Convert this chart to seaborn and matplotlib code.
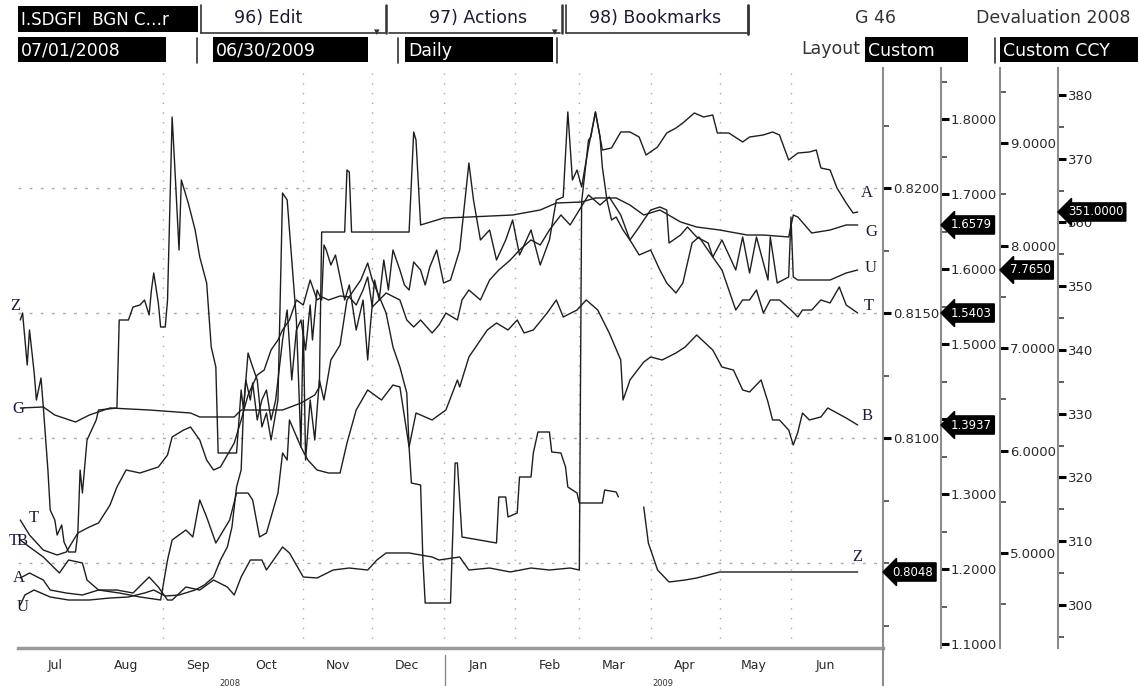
import pandas as pd
import matplotlib
matplotlib.use("Agg")
import matplotlib.pyplot as plt
import matplotlib.dates as mdates
from matplotlib.patches import Rectangle
from matplotlib.lines import Line2D
from matplotlib.ticker import MultipleLocator, FormatStrFormatter, FixedLocator, NullFormatter, FuncFormatter
import seaborn as sns
import numpy as np

# ---- values ----
# Z (first right axis)
z_dates = ['2008-07-01', '2008-07-02', '2008-07-04', '2008-07-05', '2008-07-07', '2008-07-08', '2008-07-10', '2008-07-11', '2008-07-13', '2008-07-14',
           '2008-07-16', '2008-07-17', '2008-07-19', '2008-07-20', '2008-07-22', '2008-07-25', '2008-07-26', '2008-07-27', '2008-07-28', '2008-07-30',
           '2008-08-03', '2008-08-04', '2008-08-12', '2008-08-13', '2008-08-17', '2008-08-19', '2008-08-22', '2008-08-24', '2008-08-26', '2008-08-27',
           '2008-08-28', '2008-08-30', '2008-08-31', '2008-09-02', '2008-09-03', '2008-09-05', '2008-09-06', '2008-09-08', '2008-09-09', '2008-09-12',
           '2008-09-15', '2008-09-17', '2008-09-20', '2008-09-22', '2008-09-24', '2008-09-25', '2008-10-03', '2008-10-05', '2008-10-06', '2008-10-08',
           '2008-10-10', '2008-10-12', '2008-10-14', '2008-10-16', '2008-10-18', '2008-10-21', '2008-10-23', '2008-10-25', '2008-10-26', '2008-10-28',
           '2008-10-29', '2008-10-31', '2008-11-01', '2008-11-02', '2008-11-04', '2008-11-06', '2008-11-08', '2008-11-10', '2008-11-13', '2008-11-17',
           '2008-11-20', '2008-11-23', '2008-11-26', '2008-11-29', '2008-12-01', '2008-12-07', '2008-12-10', '2008-12-13', '2008-12-16', '2008-12-17',
           '2008-12-18', '2008-12-22', '2008-12-23', '2008-12-24', '2009-01-04', '2009-01-06', '2009-01-07', '2009-01-09', '2009-01-24', '2009-01-25',
           '2009-01-28', '2009-01-29', '2009-02-02', '2009-02-03', '2009-02-08', '2009-02-09', '2009-02-11', '2009-02-16', '2009-02-17', '2009-02-21',
           '2009-02-23', '2009-02-24', '2009-02-28', '2009-03-01', '2009-03-11', '2009-03-12', '2009-03-17', '2009-03-18', '2009-03-24', '2009-03-29',
           '2009-03-31', '2009-04-04', '2009-04-09', '2009-04-16', '2009-04-21', '2009-04-26', '2009-05-01', '2009-06-30']
z_vals = [0.81472, 0.81500, 0.81292, 0.81432, 0.81264, 0.81152, 0.81240, 0.81124, 0.80872, 0.80712,
          0.80672, 0.80612, 0.80652, 0.80584, 0.80544, 0.80544, 0.80620, 0.80872, 0.80780, 0.80992,
          0.81072, 0.81112, 0.81120, 0.81472, 0.81472, 0.81524, 0.81532, 0.81552, 0.81492, 0.81592,
          0.81660, 0.81540, 0.81444, 0.81444, 0.81552, 0.82284, 0.82112, 0.81752, 0.82032, 0.81940,
          0.81832, 0.81724, 0.81620, 0.81364, 0.81284, 0.80940, 0.80940, 0.81192, 0.81112, 0.81340,
          0.81284, 0.81232, 0.81044, 0.81100, 0.80992, 0.81152, 0.81980, 0.81952, 0.81832, 0.81592,
          0.81472, 0.80964, 0.81472, 0.80912, 0.81152, 0.80992, 0.81232, 0.81152, 0.81312, 0.81372,
          0.81552, 0.81592, 0.81632, 0.81700, 0.81632, 0.81500, 0.81364, 0.81284, 0.81180, 0.80964,
          0.80820, 0.80812, 0.80512, 0.80340, 0.80340, 0.80900, 0.80900, 0.80604, 0.80580, 0.80764,
          0.80764, 0.80684, 0.80700, 0.80844, 0.80844, 0.80940, 0.81024, 0.81024, 0.80944, 0.80940,
          0.80884, 0.80804, 0.80780, 0.80740, 0.80740, 0.80792, 0.80784, 0.80764, np.nan, 0.80724,
          0.80580, 0.80472, 0.80424, 0.80432, 0.80440, 0.80452, 0.80464, 0.80464]

# G (second axis)
g_dates = ['2008-07-01', '2008-07-11', '2008-07-16', '2008-07-25', '2008-07-31', '2008-08-09', '2008-08-26', '2008-09-13', '2008-09-17', '2008-10-02',
           '2008-10-05', '2008-10-23', '2008-10-31', '2008-11-06', '2008-11-08', '2008-11-09', '2008-11-19', '2008-11-20', '2008-11-21', '2008-11-22',
           '2008-12-17', '2008-12-19', '2008-12-20', '2008-12-22', '2009-01-01', '2009-01-12', '2009-01-31', '2009-02-12', '2009-02-19', '2009-03-02',
           '2009-03-08', '2009-03-17', '2009-03-23', '2009-03-29', '2009-04-05', '2009-04-14', '2009-04-21', '2009-05-01', '2009-05-13', '2009-05-20',
           '2009-05-31', '2009-06-02', '2009-06-04', '2009-06-10', '2009-06-18', '2009-06-25', '2009-06-30']
g_vals = [1.4147, 1.4160, 1.4053, 1.3960, 1.4053, 1.4147, 1.4120, 1.4080, 1.4027, 1.4027,
          1.4120, 1.4120, 1.4213, 1.4320, 1.4427, 1.6493, 1.6493, 1.7320, 1.7293, 1.6493,
          1.6493, 1.7827, 1.7720, 1.6587, 1.6680, 1.6693, 1.6720, 1.6787, 1.6880, 1.6893,
          1.6947, 1.6947, 1.6853, 1.6720, 1.6787, 1.6627, 1.6560, 1.6520, 1.6453, 1.6453,
          1.6427, 1.6720, 1.6693, 1.6480, 1.6520, 1.6587, 1.6587]

# U (third axis)
u_dates = ['2008-07-01', '2008-07-03', '2008-07-07', '2008-07-14', '2008-07-22', '2008-07-31', '2008-08-09', '2008-08-17', '2008-08-24', '2008-08-28',
           '2008-09-02', '2008-09-08', '2008-09-15', '2008-09-19', '2008-09-23', '2008-09-26', '2008-09-29', '2008-10-01', '2008-10-03', '2008-10-05',
           '2008-10-06', '2008-10-07', '2008-10-09', '2008-10-10', '2008-10-12', '2008-10-14', '2008-10-16', '2008-10-18', '2008-10-20', '2008-10-23',
           '2008-10-25', '2008-10-27', '2008-10-29', '2008-10-31', '2008-11-02', '2008-11-04', '2008-11-05', '2008-11-07', '2008-11-09', '2008-11-10',
           '2008-11-11', '2008-11-13', '2008-11-15', '2008-11-19', '2008-11-21', '2008-11-24', '2008-11-27', '2008-11-29', '2008-11-30', '2008-12-02',
           '2008-12-04', '2008-12-06', '2008-12-08', '2008-12-10', '2008-12-13', '2008-12-15', '2008-12-17', '2008-12-19', '2008-12-22', '2008-12-24',
           '2008-12-26', '2008-12-29', '2009-01-01', '2009-01-04', '2009-01-08', '2009-01-12', '2009-01-14', '2009-01-17', '2009-01-21', '2009-01-24',
           '2009-01-28', '2009-01-31', '2009-02-03', '2009-02-08', '2009-02-12', '2009-02-16', '2009-02-19', '2009-02-22', '2009-02-24', '2009-02-26',
           '2009-02-28', '2009-03-02', '2009-03-05', '2009-03-08', '2009-03-10', '2009-03-11', '2009-03-13', '2009-03-15', '2009-03-17', '2009-03-20',
           '2009-03-23', '2009-03-27', '2009-04-01', '2009-04-05', '2009-04-08', '2009-04-09', '2009-04-14', '2009-04-17', '2009-04-21', '2009-04-26',
           '2009-04-28', '2009-05-02', '2009-05-05', '2009-05-08', '2009-05-11', '2009-05-14', '2009-05-17', '2009-05-22', '2009-05-23', '2009-05-26',
           '2009-05-31', '2009-06-01', '2009-06-02', '2009-06-04', '2009-06-18', '2009-06-25', '2009-06-30']
u_vals = [4.4927, 4.5902, 4.6390, 4.5707, 4.5414, 4.5414, 4.5610, 4.5707, 4.6097, 4.6390,
          4.5805, 4.5902, 4.6390, 4.6878, 4.7658, 4.9317, 5.0585, 5.2536, 5.6439, 5.8097,
          6.3951, 6.6878, 6.4927, 6.6585, 6.2975, 6.4927, 6.5902, 6.2975, 6.4927, 7.0780,
          7.3707, 6.6878, 7.1756, 7.2731, 6.9805, 7.4195, 7.0780, 7.5658, 7.4683, 8.0049,
          7.9561, 7.8097, 7.9073, 7.4683, 7.6146, 7.1756, 7.4683, 6.8829, 7.1756, 7.6634,
          7.4683, 7.8585, 7.5658, 7.9561, 7.7610, 7.6146, 7.5658, 7.8390, 7.7610, 7.6146,
          7.7902, 7.9561, 7.6341, 7.6634, 7.9561, 8.8049, 8.4439, 8.0536, 8.1512, 7.8585,
          8.0536, 8.2488, 7.9073, 8.1512, 7.8097, 8.0536, 8.4439, 8.4731, 9.3024, 8.6390,
          8.7366, 8.5707, 8.9610, 9.3024, 9.0585, 8.7658, 8.4439, 8.2488, 8.2780, 8.1512,
          8.0536, 8.1805, 8.3463, 8.3756, 8.3463, 8.0244, 8.1024, 8.1805, 8.0829, 8.0244,
          7.8878, 8.0536, 7.9073, 7.7610, 8.0829, 7.7317, 8.0829, 7.6634, 8.0829, 7.6341,
          7.6927, 8.2780, 7.6927, 7.6634, 7.6634, 7.7317, 7.7610]

# T (second axis)
t_dates = ['2008-07-01', '2008-07-05', '2008-07-11', '2008-07-17', '2008-07-21', '2008-07-26', '2008-07-31', '2008-08-04', '2008-08-09', '2008-08-12',
           '2008-08-16', '2008-08-22', '2008-08-30', '2008-09-03', '2008-09-05', '2008-09-10', '2008-09-13', '2008-09-17', '2008-09-20', '2008-09-23',
           '2008-09-26', '2008-09-29', '2008-10-02', '2008-10-05', '2008-10-08', '2008-10-12', '2008-10-15', '2008-10-18', '2008-10-21', '2008-10-23',
           '2008-10-26', '2008-10-29', '2008-11-01', '2008-11-04', '2008-11-07', '2008-11-09', '2008-11-12', '2008-11-17', '2008-11-21', '2008-11-24',
           '2008-11-27', '2008-11-29', '2008-12-01', '2008-12-04', '2008-12-07', '2008-12-13', '2008-12-16', '2008-12-19', '2008-12-22', '2008-12-27',
           '2008-12-30', '2009-01-02', '2009-01-07', '2009-01-09', '2009-01-12', '2009-01-17', '2009-01-21', '2009-01-25', '2009-01-30', '2009-02-03',
           '2009-02-08', '2009-02-12', '2009-02-16', '2009-02-21', '2009-02-25', '2009-03-01', '2009-03-05', '2009-03-10', '2009-03-14', '2009-03-19',
           '2009-03-23', '2009-03-27', '2009-04-01', '2009-04-05', '2009-04-08', '2009-04-12', '2009-04-15', '2009-04-19', '2009-04-22', '2009-04-28',
           '2009-05-02', '2009-05-05', '2009-05-08', '2009-05-11', '2009-05-14', '2009-05-17', '2009-05-20', '2009-05-23', '2009-05-27', '2009-06-01',
           '2009-06-04', '2009-06-06', '2009-06-10', '2009-06-14', '2009-06-18', '2009-06-22', '2009-06-25', '2009-06-30']
t_vals = [1.2653, 1.2453, 1.2253, 1.2187, 1.2227, 1.2480, 1.2560, 1.2613, 1.2853, 1.3093,
          1.3320, 1.3280, 1.3360, 1.3520, 1.3760, 1.3853, 1.3893, 1.3720, 1.3453, 1.3320,
          1.3360, 1.3520, 1.3680, 1.3987, 1.4320, 1.4587, 1.4653, 1.4920, 1.5053, 1.5187,
          1.5320, 1.5587, 1.5520, 1.5853, 1.5587, 1.5627, 1.5587, 1.5640, 1.5627, 1.5520,
          1.5720, 1.5893, 1.5493, 1.5587, 1.5680, 1.5587, 1.5320, 1.5227, 1.5320, 1.5147,
          1.5253, 1.5413, 1.5320, 1.5587, 1.5720, 1.5587, 1.5853, 1.5987, 1.6120, 1.6253,
          1.6387, 1.6320, 1.6520, 1.6720, 1.6587, 1.6787, 1.6987, 1.6853, 1.6960, 1.6720,
          1.6387, 1.6187, 1.6253, 1.5987, 1.5813, 1.5680, 1.5813, 1.6347, 1.6427, 1.6160,
          1.5987, 1.5720, 1.5453, 1.5587, 1.5587, 1.5720, 1.5413, 1.5587, 1.5587, 1.5453,
          1.5360, 1.5453, 1.5453, 1.5587, 1.5547, 1.5760, 1.5520, 1.5413]

# B (second axis)
b_dates = ['2008-07-01', '2008-07-05', '2008-07-11', '2008-07-18', '2008-07-22', '2008-07-28', '2008-07-30', '2008-08-04', '2008-08-13', '2008-08-22',
           '2008-08-31', '2008-09-03', '2008-09-05', '2008-09-11', '2008-09-14', '2008-09-17', '2008-09-20', '2008-09-24', '2008-09-30', '2008-10-03',
           '2008-10-08', '2008-10-10', '2008-10-13', '2008-10-16', '2008-10-21', '2008-10-23', '2008-10-25', '2008-10-26', '2008-10-31', '2008-11-03',
           '2008-11-07', '2008-11-12', '2008-11-17', '2008-11-20', '2008-11-24', '2008-11-29', '2008-12-05', '2008-12-10', '2008-12-13', '2008-12-17',
           '2008-12-20', '2008-12-27', '2009-01-02', '2009-01-07', '2009-01-08', '2009-01-12', '2009-01-20', '2009-01-24', '2009-01-29', '2009-02-02',
           '2009-02-05', '2009-02-09', '2009-02-15', '2009-02-19', '2009-02-22', '2009-02-28', '2009-03-04', '2009-03-09', '2009-03-14', '2009-03-19',
           '2009-03-20', '2009-03-22', '2009-03-23', '2009-03-29', '2009-04-01', '2009-04-06', '2009-04-12', '2009-04-16', '2009-04-21', '2009-04-28',
           '2009-05-02', '2009-05-07', '2009-05-11', '2009-05-14', '2009-05-19', '2009-05-22', '2009-05-24', '2009-05-27', '2009-05-31', '2009-06-02',
           '2009-06-04', '2009-06-06', '2009-06-09', '2009-06-14', '2009-06-17', '2009-06-21', '2009-06-25', '2009-06-30']
b_vals = [1.2387, 1.2293, 1.2160, 1.1947, 1.2120, 1.2080, 1.1853, 1.1720, 1.1680, 1.1627,
          1.1587, 1.2120, 1.2387, 1.2520, 1.2427, 1.2920, 1.2693, 1.2347, 1.2653, 1.3013,
          1.3013, 1.2920, 1.2427, 1.2480, 1.3013, 1.3547, 1.3453, 1.3987, 1.3627, 1.3453,
          1.3320, 1.3280, 1.3280, 1.3680, 1.4120, 1.4387, 1.4253, 1.4453, 1.4427, 1.3627,
          1.4080, 1.3987, 1.4120, 1.4520, 1.4427, 1.4827, 1.5187, 1.5280, 1.5187, 1.5320,
          1.5147, 1.5187, 1.5413, 1.5587, 1.5360, 1.5453, 1.5587, 1.5453, 1.5147, 1.4787,
          1.4253, 1.4427, 1.4520, 1.4760, 1.4827, 1.4787, 1.4880, 1.4960, 1.5120, 1.4920,
          1.4693, 1.4653, 1.4387, 1.4360, 1.4520, 1.4227, 1.3987, 1.3987, 1.3853, 1.3653,
          1.3827, 1.4080, 1.3987, 1.4027, 1.4147, 1.4080, 1.4013, 1.3920]

# A (fourth axis)
a_dates = ['2008-07-01', '2008-07-05', '2008-07-11', '2008-07-14', '2008-07-21', '2008-07-28', '2008-08-04', '2008-08-12', '2008-08-19', '2008-08-26',
           '2008-08-30', '2008-09-03', '2008-09-05', '2008-09-11', '2008-09-17', '2008-09-23', '2008-09-29', '2008-10-02', '2008-10-05', '2008-10-09',
           '2008-10-14', '2008-10-16', '2008-10-23', '2008-10-26', '2008-11-01', '2008-11-07', '2008-11-14', '2008-11-21', '2008-11-29', '2008-12-03',
           '2008-12-07', '2008-12-17', '2008-12-27', '2008-12-30', '2009-01-08', '2009-01-12', '2009-01-21', '2009-01-30', '2009-02-08', '2009-02-16',
           '2009-02-25', '2009-03-01', '2009-03-02', '2009-03-05', '2009-03-06', '2009-03-08', '2009-03-10', '2009-03-11', '2009-03-15', '2009-03-19',
           '2009-03-23', '2009-03-27', '2009-03-30', '2009-04-04', '2009-04-08', '2009-04-12', '2009-04-15', '2009-04-20', '2009-04-24', '2009-04-28',
           '2009-04-30', '2009-05-05', '2009-05-11', '2009-05-14', '2009-05-20', '2009-05-24', '2009-05-27', '2009-05-31', '2009-06-04', '2009-06-09',
           '2009-06-12', '2009-06-14', '2009-06-18', '2009-06-21', '2009-06-25', '2009-06-28', '2009-06-30']
a_vals = [304.24, 305.02, 303.92, 302.35, 301.88, 301.57, 302.35, 302.35, 301.88, 304.39,
          302.82, 300.78, 300.78, 302.82, 302.35, 303.92, 302.82, 301.57, 304.39, 307.06,
          307.06, 305.49, 309.10, 308.16, 304.39, 304.24, 305.49, 305.80, 305.49, 307.06,
          308.16, 308.16, 307.53, 307.06, 307.53, 305.49, 305.80, 305.18, 305.80, 305.49,
          305.80, 305.49, 363.22, 372.94, 373.41, 377.33, 373.41, 371.37, 371.69, 374.20,
          374.20, 373.41, 370.59, 371.84, 374.04, 374.82, 375.61, 377.18, 376.55, 376.86,
          374.04, 374.04, 372.63, 373.41, 373.73, 374.20, 373.73, 369.80, 370.90, 371.06,
          371.37, 368.55, 368.24, 365.41, 363.06, 361.49, 361.65]

# last-value boxes on the right axes
box_texts = {'Z': '0.8048', 'G': '1.6579', 'T': '1.5403', 'B': '1.3937', 'U': '7.7650', 'A': '351.0000'}

W, H = 1140, 686


def fx(x):
    return x / W


def fy(y):
    return 1 - y / H


def frame(dates, vals):
    df = pd.DataFrame({'date': pd.to_datetime(dates), 'value': vals})
    df['seg'] = df['value'].isna().cumsum()
    return df.dropna()


sns.set_theme(style="white")
plt.rcParams['font.family'] = ['DejaVu Sans']

fig = plt.figure(figsize=(W / 100, H / 100), dpi=100)
fig.patch.set_facecolor('white')

ax = fig.add_axes([fx(18), fy(648), fx(883) - fx(18), fy(68) - fy(648)])
ax2 = ax.twinx()
ax3 = ax.twinx()
ax4 = ax.twinx()
axes = {'ax1': ax, 'ax2': ax2, 'ax3': ax3, 'ax4': ax4}
spine_pos = {'ax1': 1.0, 'ax2': 1.0671, 'ax3': 1.1353, 'ax4': 1.2023}
ylims = {'ax1': (0.80160, 0.82480), 'ax2': (1.09467, 1.86800),
         'ax3': (4.07317, 9.73171), 'ax4': (293.255, 384.235)}

series = [
    ('Z', z_dates, z_vals, 'ax1'),
    ('G', g_dates, g_vals, 'ax2'),
    ('U', u_dates, u_vals, 'ax3'),
    ('T', t_dates, t_vals, 'ax2'),
    ('B', b_dates, b_vals, 'ax2'),
    ('A', a_dates, a_vals, 'ax4'),
]

line_col = '#1e1e1e'
for name, d, v, key in series:
    df = frame(d, v)
    sns.lineplot(data=df, x='date', y='value', units='seg', estimator=None,
                 ax=axes[key], color=line_col, lw=1.0, legend=False)

# axes styling
for key, a in axes.items():
    a.set_ylim(*ylims[key])
    a.set_xlabel('')
    a.set_ylabel('')
    for s in ['top', 'left']:
        a.spines[s].set_visible(False)
    if key != 'ax1':
        a.spines['bottom'].set_visible(False)
    a.spines['right'].set_position(('axes', spine_pos[key]))
    a.spines['right'].set_color('#8c8c8c')
    a.spines['right'].set_linewidth(1.5)
    a.yaxis.set_ticks_position('right')
    a.tick_params(axis='y', which='major', direction='out', length=6, width=2.2,
                  color='black', labelsize=9.5, labelcolor='#2a2a2a', pad=1)
    a.tick_params(axis='y', which='minor', direction='out', length=4, width=1.2, color='#444')

# the 0.8050 and 1.4000 labels sit under the value boxes in the reference
ax.yaxis.set_major_locator(FixedLocator([0.81, 0.815, 0.82]))
ax.yaxis.set_minor_locator(MultipleLocator(0.0025))
ax.yaxis.set_major_formatter(FormatStrFormatter('%.4f'))
ax2.yaxis.set_major_locator(MultipleLocator(0.1))
ax2.yaxis.set_minor_locator(MultipleLocator(0.05))
ax2.yaxis.set_major_formatter(FuncFormatter(lambda v, p: '' if abs(v - 1.4) < 1e-6 else f'{v:.4f}'))
ax3.yaxis.set_major_locator(MultipleLocator(1))
ax3.yaxis.set_minor_locator(MultipleLocator(0.5))
ax3.yaxis.set_major_formatter(FormatStrFormatter('%.4f'))
ax4.yaxis.set_major_locator(MultipleLocator(10))
ax4.yaxis.set_minor_locator(MultipleLocator(5))
ax4.yaxis.set_major_formatter(FormatStrFormatter('%d'))

ax.set_xlim(pd.Timestamp('2008-06-30'), pd.Timestamp('2009-07-11'))
ax.spines['bottom'].set_color('#9a9a9a')
ax.spines['bottom'].set_linewidth(2.5)
ax.xaxis.set_major_locator(mdates.MonthLocator())
ax.xaxis.set_major_formatter(NullFormatter())
ax.xaxis.set_minor_locator(mdates.MonthLocator(bymonthday=16))
ax.xaxis.set_minor_formatter(mdates.DateFormatter('%b'))
ax.tick_params(axis='x', which='major', direction='inout', length=6, width=1.5, color='#444')
ax.tick_params(axis='x', which='minor', length=0, labelsize=9, labelcolor='#2a2a2a', pad=8)

# dotted grid
ax.grid(False)
for yv in [0.805, 0.81, 0.815, 0.82]:
    ax.axhline(yv, color='#a8a8a8', lw=1.0, ls=(0, (2, 6)), zorder=0)
for m in ['2008-09-01', '2008-11-01', '2008-12-01', '2009-01-01', '2009-02-01',
          '2009-03-01', '2009-04-01', '2009-05-01', '2009-06-01']:
    ax.axvline(pd.Timestamp(m), color='#a8a8a8', lw=1.0, ls=(0, (1, 6)), zorder=0)

# end-value boxes
box_axis = {'Z': 'ax1', 'G': 'ax2', 'T': 'ax2', 'B': 'ax2', 'U': 'ax3', 'A': 'ax4'}
last_vals = {name: [x for x in v if not np.isnan(x)][-1] for name, d, v, key in series}
for name, txt in box_texts.items():
    key = box_axis[name]
    a = axes[key]
    a.annotate(txt, xy=(spine_pos[key], last_vals[name]), xycoords=a.get_yaxis_transform(),
               xytext=(7, 0), textcoords='offset points', ha='left', va='center',
               color='white', fontsize=8.5, annotation_clip=False, zorder=20,
               bbox=dict(boxstyle='larrow,pad=0.22', fc='black', ec='black'))

# series letters at both ends
lab_font = dict(family=['Liberation Serif', 'DejaVu Serif'], fontsize=12, color='#1b1b3a')
end_off = {'A': (6.5, 14), 'G': (10, -5), 'U': (9.5, 1.5), 'T': (8, 5), 'B': (7, 6.5), 'Z': (0, 11)}
start_off = {'Z': (-3.5, 10), 'G': (-1.5, -0.7), 'T': (10, 1.5), 'B': (1.5, -0.7), 'A': (-0.7, 0), 'U': (1.4, -1.4)}
for name, d, v, key in series:
    a = axes[key]
    vals = [x for x in v if not np.isnan(x)]
    a.annotate(name, xy=(pd.Timestamp(d[-1]), vals[-1]), xytext=end_off[name], textcoords='offset points',
               ha='center', va='center', annotation_clip=False, **lab_font)
    a.annotate(name, xy=(pd.Timestamp(d[0]), vals[0]), xytext=start_off[name], textcoords='offset points',
               ha='center', va='center', annotation_clip=False, **lab_font)
# the second T that sits against the B on the left edge
ax2.annotate('T', xy=(pd.Timestamp(b_dates[0]), b_vals[0]), xytext=(-5, -0.7), textcoords='offset points',
             ha='center', va='center', annotation_clip=False, **lab_font)


# ---- Bloomberg header ----
def fline(x0, y0, x1, y1, lw=1.2, color='#333333'):
    fig.add_artist(Line2D([fx(x0), fx(x1)], [fy(y0), fy(y1)], transform=fig.transFigure, color=color, lw=lw))


def dark_box(x0, y0, x1, y1, text, size=12.5):
    fig.add_artist(Rectangle((fx(x0), fy(y1)), fx(x1) - fx(x0), fy(y0) - fy(y1),
                             transform=fig.transFigure, fc='black', ec='none'))
    fig.text(fx(x0 + 3), fy((y0 + y1) / 2 + 1), text, color='white', ha='left', va='center', fontsize=size)


dark_box(18, 6, 198, 32, 'I.SDGFI  BGN C…r', size=12)
dark_box(18, 37, 166, 62, '07/01/2008')
dark_box(213, 37, 368, 62, '06/30/2009')
dark_box(405, 37, 553, 62, 'Daily')
dark_box(865, 37, 968, 62, 'Custom')
dark_box(1000, 37, 1138, 62, 'Custom CCY')

tab_col = '#1a1a33'
fig.text(fx(268), fy(18), '96) Edit', ha='center', va='center', fontsize=12.5, color=tab_col)
fig.text(fx(478), fy(18), '97) Actions', ha='center', va='center', fontsize=12.5, color=tab_col)
fig.text(fx(655), fy(18), '98) Bookmarks', ha='center', va='center', fontsize=12.5, color=tab_col)
fline(201, 5, 201, 33)
fline(201, 33, 385, 33)
fline(386, 5, 386, 33, lw=1.8)
fline(389, 33, 560, 33)
fline(562, 5, 562, 33, lw=1.8)
fline(566, 5, 566, 33)
fline(566, 33, 748, 33)
fline(748, 5, 748, 34, lw=2)
fig.text(fx(377), fy(32), '▾', ha='center', va='center', fontsize=8, color='#333')
fig.text(fx(555), fy(32), '▾', ha='center', va='center', fontsize=8, color='#333')
fline(197, 38, 197, 63)
fline(398, 38, 398, 63)
fline(557, 38, 557, 63)
fline(995, 38, 995, 63)
fig.text(fx(876), fy(18), 'G 46', ha='center', va='center', fontsize=12.5, color='#333')
fig.text(fx(1130), fy(18), 'Devaluation 2008', ha='right', va='center', fontsize=12.5, color='#333')
fig.text(fx(860), fy(49), 'Layout', ha='right', va='center', fontsize=12.5, color='#333')

# bottom details
fline(883, 648, 883, 686, lw=1.5, color='#8c8c8c')
fline(445, 655, 445, 686, lw=1.0, color='#8c8c8c')
fig.text(fx(230), fy(683), '2008', ha='center', va='center', fontsize=6, color='#333')
fig.text(fx(663), fy(683), '2009', ha='center', va='center', fontsize=6, color='#333')

fig.savefig('out.png', dpi=100, facecolor='white')
